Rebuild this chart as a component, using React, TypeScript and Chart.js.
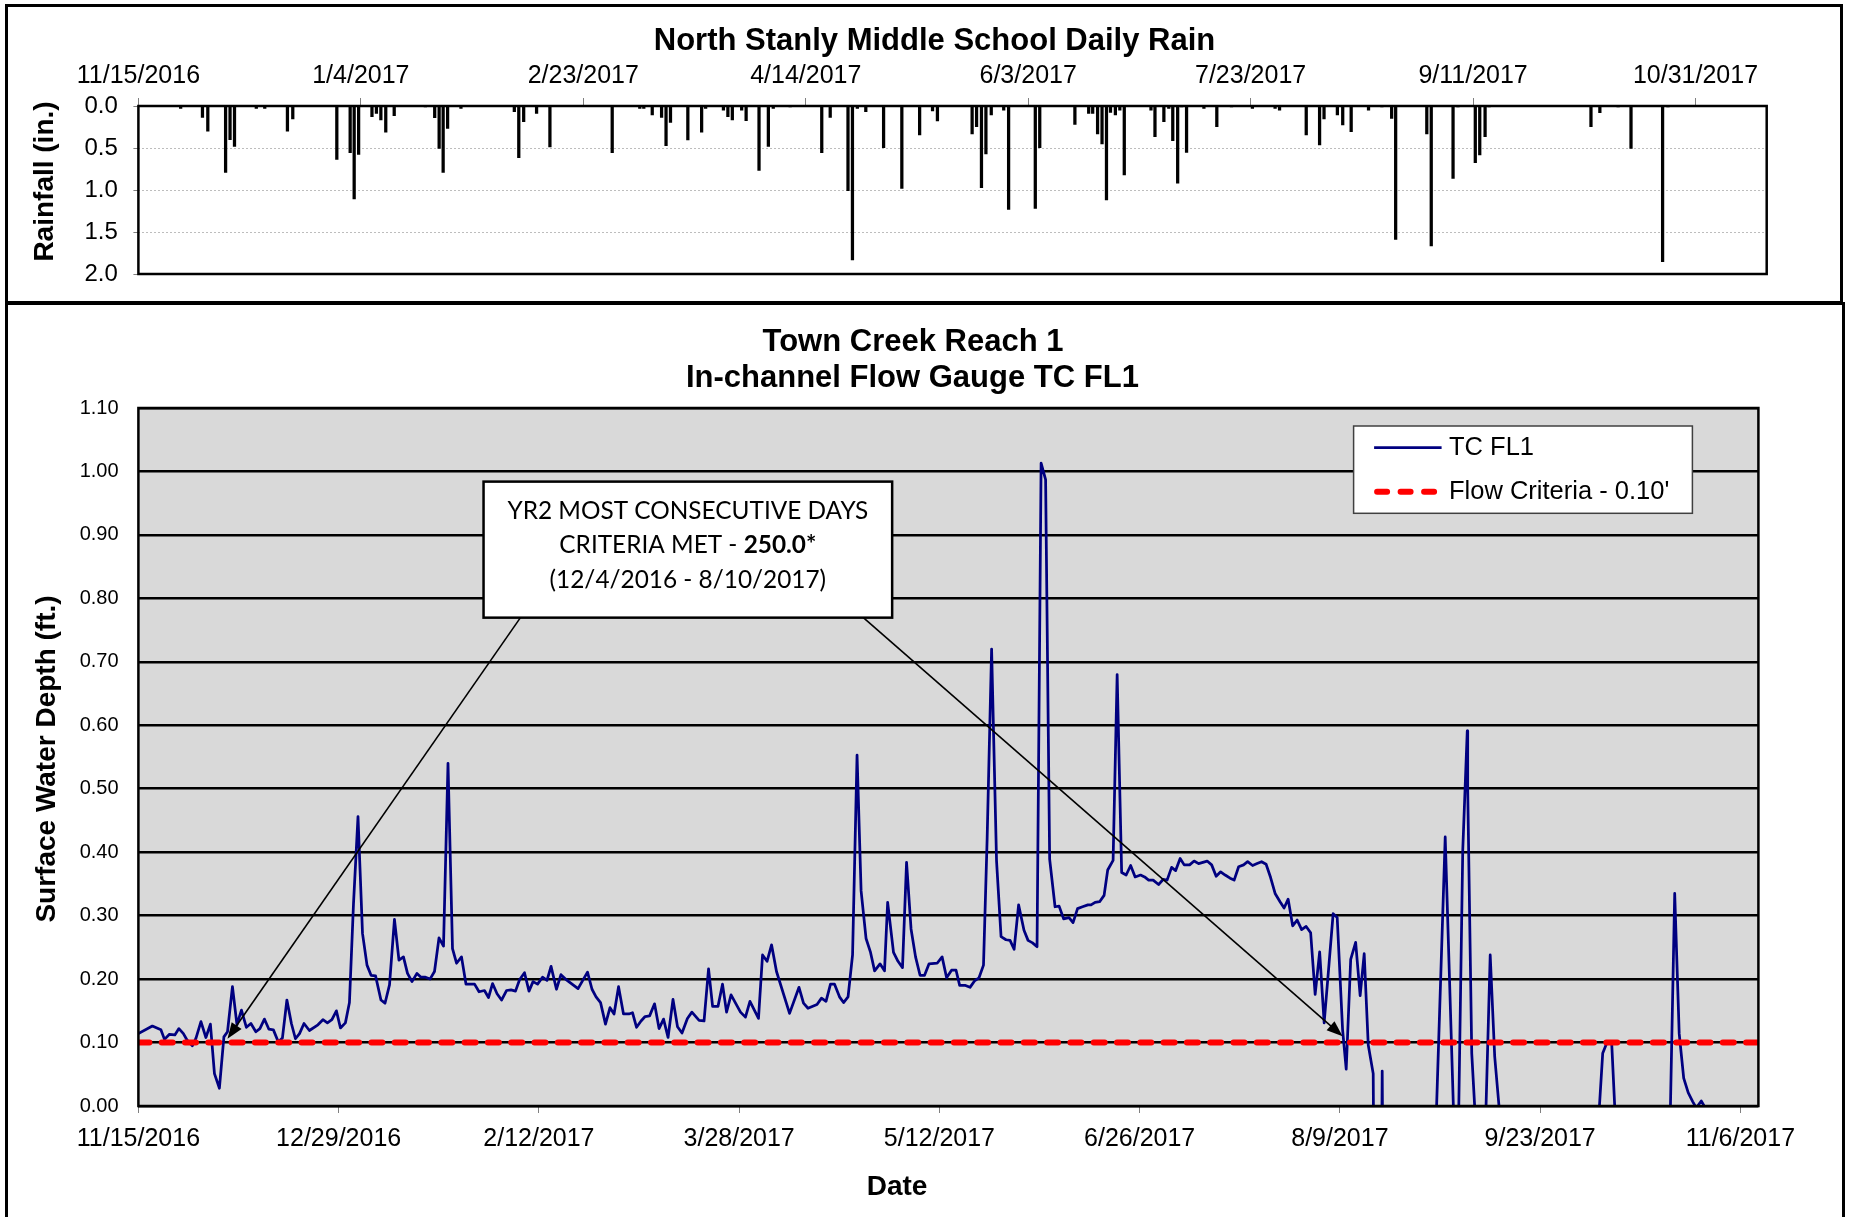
import React, { useEffect, useRef } from "react";
import { Chart, registerables } from "chart.js";

Chart.register(...registerables);

const SANS = '"Liberation Sans", Arial, sans-serif';
const CALLOUT_FONT = 'Lato, "Open Sans", sans-serif';

// ---------------- Rain chart data (days after 11/15/2016) ----------------
const rainTitle = "North Stanly Middle School Daily Rain";
const rainAxisTitle = "Rainfall (in.)";
const rainTickLabels = ["11/15/2016", "1/4/2017", "2/23/2017", "4/14/2017", "6/3/2017", "7/23/2017", "9/11/2017", "10/31/2017"];
const rainTickStepDays = 50;
const rainAxisEndDay = 366;
const rainAxisMax = 2.0;

const rainDay = [
  9.5, 14.4, 15.6, 19.6, 20.6, 21.6, 26.5, 28.4, 33.5, 34.7,
  44.6, 47.6, 48.5, 49.5, 52.5, 53.5, 54.5, 55.6, 57.5, 64.5,
  66.6, 67.6, 68.5, 69.5, 72.5, 84.5, 85.5, 86.6, 89.5, 92.5,
  106.5, 112.7, 113.6, 115.5, 117.6, 118.6, 119.6, 123.5, 126.6, 127.5,
  131.5, 132.5, 133.5, 135.6, 136.6, 139.5, 141.6, 142.7, 146.5, 153.6,
  155.5, 159.5, 160.5, 161.6, 163.5, 167.5, 171.6, 175.6, 178.5, 179.6,
  187.4, 188.4, 189.5, 190.5, 191.7, 194.5, 195.6, 201.6, 202.6, 210.5,
  213.6, 214.5, 215.6, 216.6, 217.6, 218.5, 219.6, 220.6, 221.6, 227.6,
  228.5, 230.5, 231.6, 232.5, 233.6, 234.5, 235.6, 239.5, 242.4, 245.7,
  250.4, 255.5, 256.5, 262.5, 265.5, 266.5, 269.5, 270.7, 272.6, 276.5,
  279.5, 281.7, 282.6, 289.6, 290.6, 295.5, 296.6, 300.5, 301.5, 302.7,
  303.6, 326.5, 328.5, 332.6, 335.5, 342.6, 343.8,
];
const rainInches = [
  0.03, 0.135, 0.30, 0.79, 0.40, 0.48, 0.03, 0.03, 0.30, 0.155,
  0.635, 0.555, 1.107, 0.575, 0.127, 0.087, 0.167, 0.313, 0.115, 0.01,
  0.139, 0.504, 0.79, 0.266, 0.03, 0.067, 0.615, 0.187, 0.087, 0.488,
  0.555, 0.03, 0.03, 0.107, 0.135, 0.472, 0.194, 0.405, 0.313, 0.03,
  0.05, 0.127, 0.167, 0.05, 0.175, 0.766, 0.48, 0.03, 0.01, 0.555,
  0.135, 1.008, 1.833, 0.03, 0.067, 0.496, 0.98, 0.345, 0.06, 0.179,
  0.333, 0.246, 0.972, 0.571, 0.107, 0.05, 1.23, 1.218, 0.496, 0.218,
  0.087, 0.087, 0.333, 0.452, 1.119, 0.075, 0.107, 0.05, 0.821, 0.05,
  0.365, 0.187, 0.03, 0.413, 0.92, 0.01, 0.552, 0.03, 0.246, 0.01,
  0.03, 0.03, 0.05, 0.345, 0.464, 0.155, 0.107, 0.226, 0.306, 0.05,
  0.01, 0.147, 1.587, 0.333, 1.667, 0.861, 0.01, 0.675, 0.583, 0.365,
  0.01, 0.246, 0.08, 0.01, 0.504, 1.853, 0.01,
];

// ---------------- Flow chart data (days after 11/15/2016) ----------------
const flowTitle = ["Town Creek Reach 1", "In-channel Flow Gauge TC FL1"];
const flowAxisTitle = "Surface Water Depth (ft.)";
const dateAxisTitle = "Date";
const flowTickLabels = ["11/15/2016", "12/29/2016", "2/12/2017", "3/28/2017", "5/12/2017", "6/26/2017", "8/9/2017", "9/23/2017", "11/6/2017"];
const flowTickStepDays = 44.5;
const flowAxisEndDay = 360;
const flowAxisMax = 1.1;
const seriesNames = ["TC FL1", "Flow Criteria - 0.10'"];

const flowDay = [
  0, 3.1, 5.0, 5.8, 6.9, 8.1, 9.0, 10.0, 10.8, 12.0,
  12.8, 13.9, 15.0, 16.0, 16.9, 18.0, 19.0, 19.8, 20.9, 21.9,
  22.9, 24.0, 25.0, 26.1, 27.0, 28.0, 29.0, 30.0, 31.1, 32.0,
  33.0, 34.0, 34.9, 35.8, 36.8, 38.0, 39.9, 41.0, 42.0, 43.0,
  44.0, 44.9, 46.0, 46.9, 47.8, 48.8, 49.8, 50.8, 51.7, 52.7,
  53.9, 54.8, 55.8, 56.9, 57.9, 58.9, 59.8, 60.8, 61.9, 62.8,
  63.8, 64.8, 65.8, 66.8, 67.8, 68.8, 69.8, 70.7, 71.8, 72.8,
  74.7, 75.7, 76.9, 77.8, 78.7, 79.7, 80.7, 81.8, 82.8, 83.8,
  84.7, 85.8, 86.8, 87.7, 88.7, 89.8, 90.8, 91.7, 92.9, 93.9,
  94.9, 97.7, 99.8, 100.8, 101.7, 102.7, 103.8, 104.8, 105.7, 106.7,
  107.8, 109.0, 109.8, 110.7, 111.7, 112.6, 113.6, 114.7, 115.7, 116.7,
  117.7, 118.8, 119.8, 120.8, 122.0, 123.0, 124.6, 125.7, 126.7, 127.6,
  128.8, 129.8, 130.7, 131.7, 133.8, 134.9, 135.9, 137.8, 138.7, 139.7,
  140.7, 141.8, 144.7, 146.8, 147.8, 148.8, 150.8, 151.8, 152.8, 153.8,
  154.7, 155.8, 156.7, 157.7, 158.7, 159.7, 160.6, 161.7, 162.7, 163.6,
  164.8, 165.8, 166.5, 167.8, 168.8, 169.8, 170.7, 171.7, 172.7, 173.7,
  174.7, 175.7, 177.5, 178.6, 179.6, 180.7, 181.7, 182.5, 183.8, 184.8,
  185.8, 186.8, 187.8, 188.6, 189.6, 190.7, 191.7, 192.8, 193.7, 194.6,
  195.6, 196.8, 197.7, 198.7, 199.7, 200.6, 201.6, 202.5, 203.7, 204.6,
  205.6, 206.8, 207.7, 208.7, 209.8, 211.0, 211.7, 212.6, 213.6, 214.6,
  215.4, 216.6, 217.5, 218.5, 219.5, 220.5, 221.5, 222.7, 223.6, 224.5,
  225.5, 226.7, 227.7, 228.6, 229.6, 230.5, 231.5, 232.4, 233.6, 234.6,
  235.6, 237.5, 238.5, 239.5, 240.5, 241.5, 242.6, 243.5, 244.5, 245.6,
  246.5, 247.6, 248.6, 249.6, 250.6, 251.6, 252.6, 253.7, 254.6, 255.5,
  256.5, 257.5, 258.5, 259.5, 260.5, 261.5, 262.5, 263.5, 264.6, 265.5,
  266.4, 267.6, 268.4, 269.4, 270.5, 271.5, 272.4, 273.3, 274.4, 275.4,
  276.4, 277.4, 287.4, 288.4, 290.4, 292.3, 293.4, 294.3, 295.3, 295.4,
  296.3, 297.1, 299.4, 300.4, 301.4, 302.6, 303.6, 323.5, 324.5, 325.4,
  326.4, 327.4, 328.2, 329.2, 339.4, 340.4, 341.4, 342.4, 343.4, 344.4,
  345.4, 346.2, 347.3, 348.2,
];
const flowDepth = [
  0.114, 0.126, 0.120, 0.105, 0.113, 0.112, 0.122, 0.114, 0.104, 0.095,
  0.107, 0.133, 0.108, 0.129, 0.051, 0.028, 0.109, 0.117, 0.188, 0.128,
  0.151, 0.124, 0.130, 0.117, 0.122, 0.137, 0.121, 0.120, 0.101, 0.107,
  0.167, 0.130, 0.106, 0.114, 0.130, 0.119, 0.128, 0.136, 0.131, 0.136,
  0.150, 0.123, 0.131, 0.163, 0.319, 0.456, 0.272, 0.222, 0.206, 0.205,
  0.167, 0.162, 0.191, 0.294, 0.230, 0.235, 0.209, 0.196, 0.209, 0.203,
  0.203, 0.200, 0.212, 0.265, 0.252, 0.540, 0.248, 0.225, 0.235, 0.192,
  0.192, 0.180, 0.182, 0.171, 0.193, 0.177, 0.167, 0.182, 0.183, 0.181,
  0.199, 0.210, 0.181, 0.196, 0.192, 0.203, 0.198, 0.220, 0.184, 0.207,
  0.200, 0.185, 0.211, 0.184, 0.172, 0.163, 0.129, 0.155, 0.145, 0.188,
  0.145, 0.145, 0.147, 0.124, 0.134, 0.141, 0.142, 0.161, 0.122, 0.137,
  0.108, 0.168, 0.125, 0.115, 0.138, 0.148, 0.135, 0.134, 0.216, 0.157,
  0.157, 0.192, 0.148, 0.175, 0.148, 0.140, 0.165, 0.138, 0.238, 0.228,
  0.254, 0.212, 0.146, 0.187, 0.162, 0.154, 0.160, 0.170, 0.165, 0.192,
  0.192, 0.172, 0.163, 0.172, 0.238, 0.553, 0.339, 0.264, 0.242, 0.213,
  0.224, 0.213, 0.321, 0.242, 0.228, 0.218, 0.384, 0.279, 0.235, 0.206,
  0.206, 0.224, 0.225, 0.235, 0.202, 0.214, 0.214, 0.190, 0.190, 0.187,
  0.197, 0.202, 0.222, 0.419, 0.720, 0.386, 0.267, 0.262, 0.261, 0.247,
  0.317, 0.277, 0.261, 0.257, 0.251, 1.013, 0.987, 0.389, 0.314, 0.315,
  0.295, 0.297, 0.289, 0.311, 0.314, 0.317, 0.317, 0.321, 0.322, 0.332,
  0.372, 0.387, 0.680, 0.368, 0.364, 0.379, 0.361, 0.364, 0.361, 0.356,
  0.356, 0.349, 0.357, 0.356, 0.376, 0.371, 0.390, 0.380, 0.380, 0.386,
  0.382, 0.386, 0.380, 0.362, 0.369, 0.364, 0.359, 0.356, 0.377, 0.380,
  0.385, 0.379, 0.382, 0.385, 0.381, 0.360, 0.335, 0.322, 0.312, 0.326,
  0.284, 0.293, 0.278, 0.283, 0.273, 0.176, 0.243, 0.131, 0.225, 0.303,
  0.297, 0.120, 0.058, 0.231, 0.258, 0.174, 0.240, 0.096, 0.051, -1.0,
  0.055, -1.0, -1.0, -0.02, 0.424, -0.02, -0.01, 0.403, 0.591, 0.500,
  0.083, -0.02, -0.02, 0.238, 0.078, -0.02, -1.0, -1.0, -0.02, 0.083,
  0.101, 0.099, -0.02, -1.0, -1.0, -0.02, 0.335, 0.114, 0.044, 0.021,
  0.007, -0.003, 0.008, -0.003,
];

const criteriaDay = [0, 360];
const criteriaDepth = [0.1, 0.1];

// ---------------- Callout ----------------
const calloutLine1 = "YR2 MOST CONSECUTIVE DAYS";
const calloutLine2a = "CRITERIA MET - ";
const calloutLine2b = "250.0*";
const calloutLine3 = "(12/4/2016 - 8/10/2017)";
const calloutBoxDays = [76.7, 167.5];
const calloutBoxDepths = [0.984, 0.7696];
const arrowStartDays = [84.9, 161.1];
const arrowTipDays = [19.8, 267.6];
const arrowTipDepths = [0.106, 0.11];

function toPoints(xs: number[], ys: number[]) {
  return xs.map((x, i) => ({ x, y: ys[i] }));
}

const rainDecor = {
  id: "rainDecor",
  afterDraw(chart: any) {
    const { ctx, chartArea: a } = chart;
    ctx.save();
    ctx.strokeStyle = "#000";
    ctx.lineWidth = 2.5;
    ctx.strokeRect(a.left, a.top, a.right - a.left, a.bottom - a.top);
    ctx.fillStyle = "#000";
    ctx.textAlign = "center";
    ctx.textBaseline = "middle";
    ctx.font = `bold 31px ${SANS}`;
    ctx.fillText(rainTitle, 934.5, 41.5);
    ctx.translate(45, (a.top + a.bottom) / 2 - 8.5);
    ctx.rotate(-Math.PI / 2);
    ctx.font = `bold 28px ${SANS}`;
    ctx.fillText(rainAxisTitle, 0, 0);
    ctx.restore();
  },
};

function drawArrow(ctx: any, x0: number, y0: number, x1: number, y1: number) {
  const ang = Math.atan2(y1 - y0, x1 - x0);
  const L = 16;
  const W = 6;
  const c = Math.cos(ang);
  const s = Math.sin(ang);
  ctx.beginPath();
  ctx.moveTo(x0, y0);
  ctx.lineTo(x1 - L * 0.7 * c, y1 - L * 0.7 * s);
  ctx.stroke();
  const bx = x1 - L * c;
  const by = y1 - L * s;
  ctx.beginPath();
  ctx.moveTo(x1, y1);
  ctx.lineTo(bx - W * s, by + W * c);
  ctx.lineTo(bx + W * s, by - W * c);
  ctx.closePath();
  ctx.fill();
}

const flowDecor = {
  id: "flowDecor",
  beforeDraw(chart: any) {
    const { ctx, chartArea: a } = chart;
    ctx.save();
    ctx.fillStyle = "#D9D9D9";
    ctx.fillRect(a.left, a.top, a.right - a.left, a.bottom - a.top);
    ctx.restore();
  },
  afterDraw(chart: any) {
    const { ctx, chartArea: a } = chart;
    const xs = chart.scales.x;
    const ys = chart.scales.y;
    ctx.save();
    // plot border
    ctx.strokeStyle = "#000";
    ctx.lineWidth = 2.5;
    ctx.strokeRect(a.left, a.top, a.right - a.left, a.bottom - a.top);

    // arrows
    const bx0 = xs.getPixelForValue(calloutBoxDays[0]);
    const bx1 = xs.getPixelForValue(calloutBoxDays[1]);
    const by0 = ys.getPixelForValue(calloutBoxDepths[0]);
    const by1 = ys.getPixelForValue(calloutBoxDepths[1]);
    ctx.strokeStyle = "#000";
    ctx.fillStyle = "#000";
    ctx.lineWidth = 1.6;
    for (let i = 0; i < arrowTipDays.length; i++) {
      drawArrow(
        ctx,
        xs.getPixelForValue(arrowStartDays[i]),
        by1,
        xs.getPixelForValue(arrowTipDays[i]),
        ys.getPixelForValue(arrowTipDepths[i])
      );
    }

    // callout box
    ctx.fillStyle = "#fff";
    ctx.fillRect(bx0, by0, bx1 - bx0, by1 - by0);
    ctx.lineWidth = 2.5;
    ctx.strokeRect(bx0, by0, bx1 - bx0, by1 - by0);
    ctx.font = `100px ${CALLOUT_FONT}`;
    const w100 = ctx.measureText(calloutLine1).width;
    const fs = (100 * 361) / w100;
    const cx = (bx0 + bx1) / 2;
    ctx.fillStyle = "#000";
    ctx.textBaseline = "middle";
    ctx.textAlign = "center";
    ctx.font = `${fs}px ${CALLOUT_FONT}`;
    ctx.fillText(calloutLine1, cx, by0 + 29.3);
    ctx.fillText(calloutLine3, cx, by0 + 98.3);
    const wa = ctx.measureText(calloutLine2a).width;
    ctx.font = `bold ${fs}px ${CALLOUT_FONT}`;
    const wb = ctx.measureText(calloutLine2b).width;
    const start = cx - (wa + wb) / 2;
    ctx.textAlign = "left";
    ctx.font = `${fs}px ${CALLOUT_FONT}`;
    ctx.fillText(calloutLine2a, start, by0 + 64);
    ctx.font = `bold ${fs}px ${CALLOUT_FONT}`;
    ctx.fillText(calloutLine2b, start + wa, by0 + 64);

    // legend
    const lx = a.right - 404.8;
    const ly = a.top + 18;
    const lw = 338.8;
    const lh = 87.3;
    ctx.fillStyle = "#fff";
    ctx.fillRect(lx, ly, lw, lh);
    ctx.strokeStyle = "#404040";
    ctx.lineWidth = 1.5;
    ctx.strokeRect(lx, ly, lw, lh);
    const order = [1, 0];
    const rows = [21.7, 65.7];
    ctx.font = `25.5px ${SANS}`;
    ctx.textAlign = "left";
    ctx.textBaseline = "middle";
    order.forEach((dsIndex, r) => {
      const ds = chart.data.datasets[dsIndex];
      const yy = ly + rows[r];
      ctx.save();
      ctx.strokeStyle = ds.borderColor;
      ctx.lineWidth = ds.borderWidth;
      ctx.lineCap = ds.borderDash ? "round" : "butt";
      ctx.setLineDash(ds.borderDash ? [10, 13.5] : []);
      ctx.beginPath();
      ctx.moveTo(lx + (ds.borderDash ? 23.5 : 20.5), yy);
      ctx.lineTo(lx + 88, yy);
      ctx.stroke();
      ctx.restore();
      ctx.fillStyle = "#000";
      ctx.fillText(ds.label, lx + 95.4, yy);
    });

    // titles
    ctx.fillStyle = "#000";
    ctx.textAlign = "center";
    ctx.textBaseline = "middle";
    ctx.font = `bold 31px ${SANS}`;
    ctx.fillText(flowTitle[0], 913, 38.2);
    ctx.fillText(flowTitle[1], 912.4, 74);
    ctx.font = `bold 28px ${SANS}`;
    ctx.fillText(dateAxisTitle, 897, a.bottom + 81.2);
    ctx.translate(47, 455);
    ctx.rotate(-Math.PI / 2);
    ctx.fillText(flowAxisTitle, 0, 0);
    ctx.restore();
  },
};

function rainConfig(): any {
  return {
    type: "bar",
    data: {
      datasets: [
        {
          label: "Daily Rain",
          data: toPoints(rainDay, rainInches),
          backgroundColor: "#000",
          borderWidth: 0,
          barThickness: 2.6,
        },
      ],
    },
    options: {
      responsive: false,
      animation: false,
      devicePixelRatio: 1,
      layout: { padding: { left: 0, top: 0, right: 84.3, bottom: 30 } },
      plugins: { legend: { display: false }, tooltip: { enabled: false }, title: { display: false } },
      scales: {
        x: {
          type: "linear",
          position: "top",
          min: 0,
          max: rainAxisEndDay,
          offset: false,
          afterFit: (s: any) => {
            s.height = 106;
          },
          afterBuildTicks: (s: any) => {
            s.ticks = rainTickLabels.map((_, i) => ({ value: i * rainTickStepDays }));
          },
          ticks: {
            callback: (_v: any, i: number) => rainTickLabels[i],
            font: { family: SANS, size: 25 },
            color: "#000",
            padding: 7,
            maxRotation: 0,
            autoSkip: false,
          },
          grid: { offset: false, drawOnChartArea: false, drawTicks: true, tickLength: 8, tickColor: "#808080", tickWidth: 1 },
          border: { display: false },
        },
        y: {
          type: "linear",
          min: 0,
          max: rainAxisMax,
          reverse: true,
          afterFit: (s: any) => {
            s.width = 138.4;
          },
          ticks: {
            stepSize: 0.5,
            callback: (v: any) => Number(v).toFixed(1),
            font: { family: SANS, size: 24 },
            color: "#000",
            padding: 15.6,
          },
          grid: { color: "#BDBDBD", lineWidth: 1, tickLength: 5, tickColor: "#808080", tickWidth: 1, tickBorderDash: [] },
          border: { display: false, dash: [2, 2] },
        },
      },
    },
    plugins: [rainDecor],
  };
}

function flowConfig(): any {
  return {
    type: "line",
    data: {
      datasets: [
        {
          label: seriesNames[1],
          data: toPoints(criteriaDay, criteriaDepth),
          borderColor: "#FF0000",
          borderWidth: 6,
          borderDash: [11, 12.3],
          borderCapStyle: "round",
          pointRadius: 0,
          order: 0,
        },
        {
          label: seriesNames[0],
          data: toPoints(flowDay, flowDepth),
          borderColor: "#000080",
          borderWidth: 2.75,
          borderJoinStyle: "round",
          pointRadius: 0,
          tension: 0,
          order: 1,
        },
      ],
    },
    options: {
      responsive: false,
      animation: false,
      devicePixelRatio: 1,
      layout: { padding: { left: 0, top: 104, right: 92.6, bottom: 0 } },
      plugins: { legend: { display: false }, tooltip: { enabled: false }, title: { display: false } },
      scales: {
        x: {
          type: "linear",
          position: "bottom",
          min: 0,
          max: flowAxisEndDay,
          afterFit: (s: any) => {
            s.height = 111;
          },
          afterBuildTicks: (s: any) => {
            s.ticks = flowTickLabels.map((_, i) => ({ value: i * flowTickStepDays }));
          },
          ticks: {
            callback: (_v: any, i: number) => flowTickLabels[i],
            font: { family: SANS, size: 25 },
            color: "#000",
            padding: 11,
            maxRotation: 0,
            autoSkip: false,
          },
          grid: { drawOnChartArea: false, drawTicks: true, tickLength: 7, tickColor: "#808080", tickWidth: 1 },
          border: { display: false },
        },
        y: {
          type: "linear",
          min: 0,
          max: flowAxisMax,
          afterFit: (s: any) => {
            s.width = 138.4;
          },
          ticks: {
            stepSize: 0.1,
            callback: (v: any) => Number(v).toFixed(2),
            font: { family: SANS, size: 20 },
            color: "#000",
            padding: 19.8,
          },
          grid: { color: "#000", lineWidth: 2.5, drawTicks: false },
          border: { display: false },
        },
      },
    },
    plugins: [flowDecor],
  };
}

export default function App() {
  const rainRef = useRef<HTMLCanvasElement | null>(null);
  const flowRef = useRef<HTMLCanvasElement | null>(null);

  useEffect(() => {
    const rain = new Chart(rainRef.current as any, rainConfig());
    const flow = new Chart(flowRef.current as any, flowConfig());
    return () => {
      rain.destroy();
      flow.destroy();
    };
  }, []);

  return (
    <div style={{ position: "absolute", left: 0, top: 0, width: 1851, height: 1217, overflow: "hidden", background: "#fff" }}>
      <div style={{ position: "absolute", left: 5, top: 4, width: 1838, height: 300, border: "3px solid #000", boxSizing: "border-box" }} />
      <div style={{ position: "absolute", left: 5, top: 302, width: 1840, height: 1000, border: "3px solid #000", boxSizing: "border-box" }} />
      <canvas ref={rainRef} width={1851} height={304} style={{ position: "absolute", left: 0, top: 0, width: 1851, height: 304 }} />
      <canvas ref={flowRef} width={1851} height={913} style={{ position: "absolute", left: 0, top: 304, width: 1851, height: 913 }} />
    </div>
  );
}
